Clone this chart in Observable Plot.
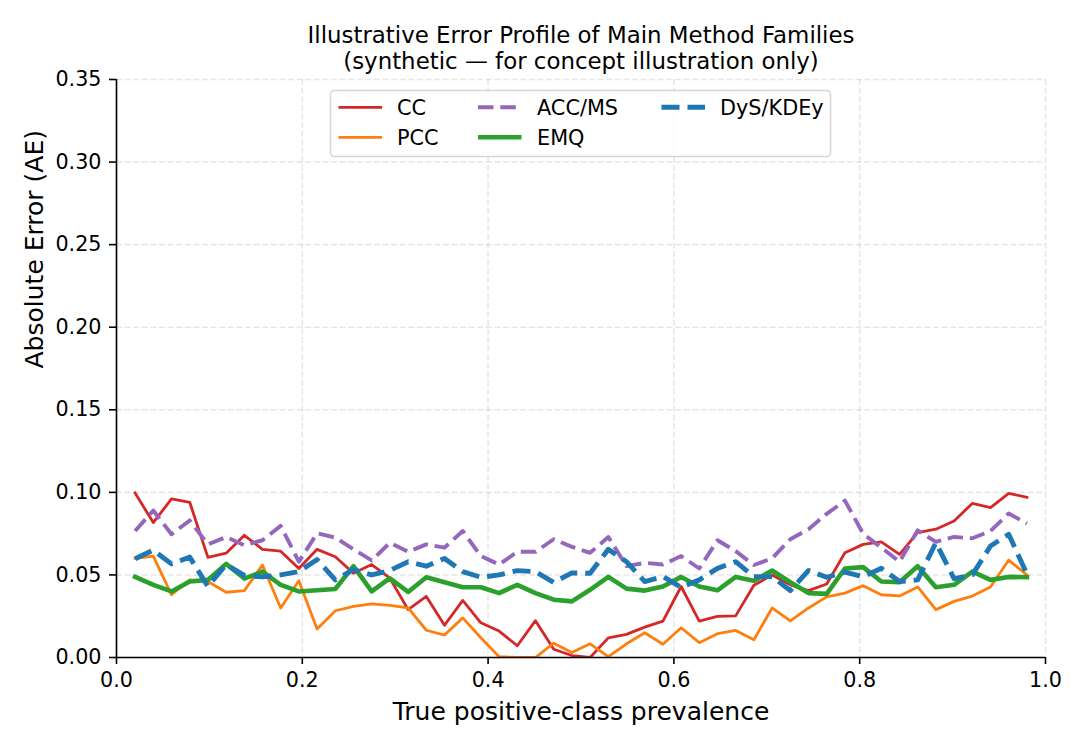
<!DOCTYPE html>
<html><head><meta charset="utf-8">
<script src="https://cdn.jsdelivr.net/npm/d3@7"></script>
<script src="https://cdn.jsdelivr.net/npm/@observablehq/plot@0.6"></script>
<style>
html,body{margin:0;padding:0;background:#fff;}
#wrap{position:relative;width:1084px;height:746px;overflow:hidden;}
#wrap svg{display:block;}
#legend{position:absolute;left:0;top:0;pointer-events:none;}
</style></head><body><div id="wrap"></div>
<script>
// ---------- data ----------
const prevalence = [0.0200,0.0396,0.0592,0.0788,0.0984,0.1180,0.1376,0.1571,0.1767,0.1963,
  0.2159,0.2355,0.2551,0.2747,0.2943,0.3139,0.3335,0.3531,0.3727,0.3922,
  0.4118,0.4314,0.4510,0.4706,0.4902,0.5098,0.5294,0.5490,0.5686,0.5882,
  0.6078,0.6273,0.6469,0.6665,0.6861,0.7057,0.7253,0.7449,0.7645,0.7841,
  0.8037,0.8233,0.8429,0.8624,0.8820,0.9016,0.9212,0.9408,0.9604,0.9800];

const ccValues = [0.0996,0.0817,0.0960,0.0940,0.0606,0.0632,0.0740,0.0655,0.0644,0.0539,
  0.0655,0.0610,0.0510,0.0563,0.0480,0.0290,0.0370,0.0195,0.0346,0.0210,
  0.0160,0.0071,0.0223,0.0050,0.0012,0.0000,0.0119,0.0140,0.0184,0.0220,
  0.0430,0.0220,0.0249,0.0252,0.0437,0.0500,0.0440,0.0405,0.0445,0.0634,
  0.0685,0.0700,0.0624,0.0756,0.0777,0.0827,0.0933,0.0908,0.0994,0.0970];

const pccValues = [0.0600,0.0614,0.0380,0.0470,0.0460,0.0395,0.0405,0.0560,0.0300,0.0465,
  0.0173,0.0283,0.0310,0.0325,0.0315,0.0300,0.0165,0.0136,0.0240,0.0120,
  0.0005,0.0000,0.0000,0.0087,0.0030,0.0083,0.0005,0.0083,0.0150,0.0080,
  0.0180,0.0090,0.0144,0.0164,0.0107,0.0300,0.0222,0.0300,0.0367,0.0390,
  0.0435,0.0380,0.0373,0.0427,0.0290,0.0340,0.0372,0.0427,0.0590,0.0500];

const accValues = [0.0766,0.0890,0.0746,0.0830,0.0685,0.0730,0.0680,0.0710,0.0797,0.0580,
  0.0752,0.0726,0.0655,0.0588,0.0695,0.0640,0.0685,0.0665,0.0766,0.0614,
  0.0563,0.0640,0.0640,0.0716,0.0670,0.0634,0.0730,0.0553,0.0573,0.0563,
  0.0614,0.0539,0.0710,0.0644,0.0560,0.0600,0.0716,0.0777,0.0870,0.0950,
  0.0750,0.0665,0.0580,0.0770,0.0700,0.0730,0.0722,0.0766,0.0872,0.0811];

const emqValues = [0.0488,0.0440,0.0400,0.0460,0.0470,0.0567,0.0478,0.0520,0.0440,0.0400,
  0.0407,0.0415,0.0553,0.0400,0.0480,0.0397,0.0486,0.0456,0.0425,0.0425,
  0.0390,0.0440,0.0390,0.0350,0.0340,0.0410,0.0488,0.0417,0.0405,0.0430,
  0.0488,0.0430,0.0407,0.0488,0.0465,0.0527,0.0456,0.0390,0.0385,0.0539,
  0.0547,0.0460,0.0456,0.0553,0.0425,0.0440,0.0520,0.0470,0.0488,0.0486];

const dysValues = [0.0598,0.0650,0.0567,0.0608,0.0430,0.0563,0.0497,0.0488,0.0500,0.0520,
  0.0593,0.0470,0.0533,0.0500,0.0527,0.0580,0.0553,0.0600,0.0520,0.0486,
  0.0500,0.0526,0.0520,0.0455,0.0512,0.0510,0.0655,0.0580,0.0460,0.0490,
  0.0425,0.0470,0.0540,0.0580,0.0490,0.0490,0.0405,0.0527,0.0486,0.0517,
  0.0490,0.0540,0.0460,0.0470,0.0695,0.0478,0.0500,0.0675,0.0746,0.0506];

const methodNames = ["CC","PCC","ACC/MS","EMQ","DyS/KDEy"];
const xTicks = [0.0,0.2,0.4,0.6,0.8,1.0];
const yTicks = [0.00,0.05,0.10,0.15,0.20,0.25,0.30,0.35];

const titleLines = ["Illustrative Error Profile of Main Method Families",
                    "(synthetic \u2014 for concept illustration only)"];
const xLabel = "True positive-class prevalence";
const yLabel = "Absolute Error (AE)";

// ---------- styles ----------
const seriesValues = [ccValues, pccValues, accValues, emqValues, dysValues];
const seriesStyle = [
  {color:"#d62728", width:2.8, dash:null},
  {color:"#ff7f0e", width:2.8, dash:null},
  {color:"#9467bd", width:3.9, dash:"15.5,6.8"},
  {color:"#2ca02c", width:4.6, dash:null},
  {color:"#1f77b4", width:4.9, dash:"18,8"}
];

const FONT = "'DejaVu Sans', sans-serif";
const gridStyle = {stroke:"#b0b0b0", strokeOpacity:0.3, strokeWidth:1.6, strokeDasharray:"6,2.6"};

const lineMarks = methodNames.map((name, k) => {
  const rows = prevalence.map((p, i) => ({p, v: seriesValues[k][i], method: name}));
  const s = seriesStyle[k];
  return Plot.line(rows, {
    x: "p", y: "v", stroke: s.color, strokeWidth: s.width,
    strokeDasharray: s.dash ?? undefined, strokeLinejoin: "round",
    strokeLinecap: s.dash ? "butt" : "square", clip: true
  });
});

const chart = Plot.plot({
  width: 1084, height: 746,
  marginLeft: 116, marginRight: 39, marginTop: 79, marginBottom: 89,
  style: {fontFamily: FONT, background: "white", color: "black", overflow: "visible"},
  x: {domain: [0, 1]},
  y: {domain: [0, 0.35]},
  marks: [
    Plot.gridX(xTicks, gridStyle),
    Plot.gridY(yTicks, gridStyle),
    ...lineMarks,
    Plot.ruleX([0], {stroke: "black", strokeWidth: 1.6}),
    Plot.ruleY([0], {stroke: "black", strokeWidth: 1.6}),
    Plot.axisX(xTicks, {tickSize: 7, tickPadding: 8, tickFormat: d => d.toFixed(1), fontSize: 20.7, strokeWidth: 1.6, label: null}),
    Plot.axisY(yTicks, {tickSize: 7, tickPadding: 8, tickFormat: d => d.toFixed(2), fontSize: 20.7, strokeWidth: 1.6, label: null}),
    Plot.text([xLabel], {frameAnchor: "bottom", dy: 54, fontSize: 25, lineAnchor: "middle"}),
    Plot.text([yLabel], {frameAnchor: "left", dx: -82, rotate: -90, fontSize: 25, lineAnchor: "middle"}),
    Plot.text([titleLines[0]], {frameAnchor: "top", dy: 34.8 - 79, fontSize: 22.9, lineAnchor: "middle"}),
    Plot.text([titleLines[1]], {frameAnchor: "top", dy: 60.8 - 79, fontSize: 22.9, lineAnchor: "middle"})
  ]
});
const wrap = document.getElementById("wrap");
wrap.appendChild(chart);

// ---------- legend (overlay) ----------
const leg = d3.select(wrap).append("svg").attr("id", "legend")
  .attr("width", 1084).attr("height", 746)
  .style("font-family", FONT);
leg.append("rect").attr("x", 330.5).attr("y", 90.5).attr("width", 500).attr("height", 66)
  .attr("rx", 4).attr("fill", "white").attr("fill-opacity", 0.8)
  .attr("stroke", "#d6d6d6").attr("stroke-width", 1.6);
const legPos = [
  {lx: 338.5, tx: 397, row: 0},
  {lx: 338.5, tx: 397, row: 1},
  {lx: 478, tx: 537, row: 0},
  {lx: 478, tx: 537, row: 1},
  {lx: 661.5, tx: 720, row: 0}
];
const rowY = [107.3, 137.3];
methodNames.forEach((name, k) => {
  const s = seriesStyle[k], p = legPos[k], y = rowY[p.row];
  leg.append("line").attr("x1", p.lx).attr("x2", p.lx + 43.5).attr("y1", y).attr("y2", y)
    .attr("stroke", s.color).attr("stroke-width", s.width)
    .attr("stroke-dasharray", s.dash).attr("stroke-linecap", "butt");
  leg.append("text").attr("x", p.tx).attr("y", y + 7.4).attr("font-size", 20.8)
    .attr("fill", "black").text(name);
});
</script></body></html>
